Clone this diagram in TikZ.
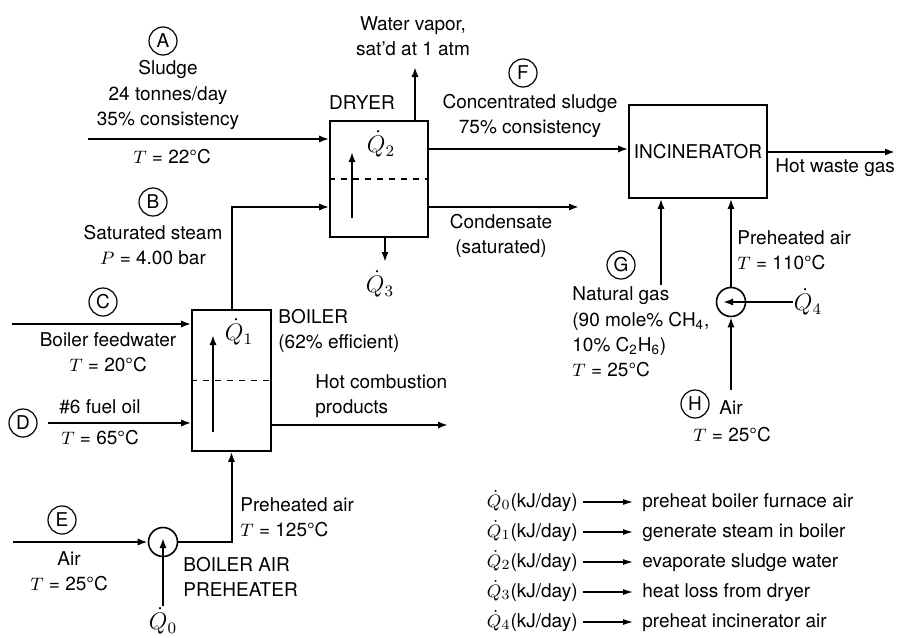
\documentclass[tikz,border=0pt]{standalone}
\usepackage{fontspec}
\setmainfont{TeX Gyre Heros}
\usepackage{tikz}
\usetikzlibrary{arrows.meta,positioning,calc}
\tikzset{
  unit/.style={draw,line width=0.8pt,inner sep=0pt},
  heater/.style={draw,circle,line width=0.8pt,minimum size=14.5pt,inner sep=0pt},
  tag/.style={draw,circle,line width=0.6pt,minimum size=14pt,inner sep=0pt},
  flow/.style={-{Latex[length=5pt,width=3.6pt]},line width=1pt},
  key/.style={-{Latex[length=5pt,width=3pt]},line width=0.6pt},
  lbl/.style={align=center,inner sep=0pt},
  lbll/.style={align=left,inner sep=0pt,anchor=west},
  qlbl/.style={inner sep=0pt,font=\fontsize{11.5pt}{13pt}\selectfont},
  keylbl/.style={inner sep=0pt,text height=7pt,text depth=2pt}
}
\begin{document}
\begin{tikzpicture}[x=0.5pt,y=-0.5pt,every node/.style={font=\fontsize{9.5pt}{12.6pt}\selectfont}]
\useasboundingbox (0,0) rectangle (897,637);
% units
\node[unit,minimum width=49pt,minimum height=58pt] (dryer) at (379,179) {};
\node[unit,minimum width=39.5pt,minimum height=70.5pt] (boiler) at (231.5,380.5) {};
\node[unit,minimum width=69pt,minimum height=46.5pt] (incin) at (698,151.5) {INCINERATOR};
\node[heater] (heat0) at (163,542) {};
\node[heater] (heat4) at (731,302) {};
\draw[dashed,line width=0.7pt] (dryer.west) -- (dryer.east);
\draw[dashed,line width=0.7pt] (boiler.west) -- (boiler.east);
\node[lbl] (dryerlbl) at (362,103) {DRYER};
\node[lbll] (boilerlbl) at (278,331) {BOILER\\(62\% efficient)};
\node[lbll] (heat0lbl) at (183,577) {BOILER AIR\\PREHEATER};
% heat inside units
\coordinate (q2a) at (352,218);
\coordinate (q2b) at (352,152);
\coordinate (q1a) at (213,432);
\coordinate (q1b) at (213,335);
\draw[flow] (q2a) -- (q2b);
\draw[flow] (q1a) -- (q1b);
\node[qlbl] (q2) at (381,144) {$\dot{Q}_2$};
\node[qlbl] (q1) at (239,332) {$\dot{Q}_1$};
% stream A
\coordinate (aIn) at (88,139);
\draw[flow] (aIn) -- (aIn -| dryer.west);
\node[tag] (tA) at (163,41) {A};
\node[lbl] (sludge) at (168,95) {Sludge\\24 tonnes/day\\35\% consistency};
\node[lbl] (tsludge) at (172,157) {$T$ = 22\textdegree C};
% water vapor
\coordinate (wv) at (415,67);
\draw[flow] (wv |- dryer.north) -- (wv);
\node[lbl] (wvlbl) at (413,36) {Water vapor,\\sat'd at 1 atm};
% Q3
\coordinate (q3b) at (385,262);
\draw[flow] (q3b |- dryer.south) -- (q3b);
\node[qlbl] (q3) at (380,284) {$\dot{Q}_3$};
% stream B
\draw[flow] (boiler.north) |- ($(dryer.west)+(0,28)$);
\node[tag] (tB) at (153,202) {B};
\node[lbl] (steam) at (153,245) {Saturated steam\\$P$ = 4.00 bar};
% stream C
\coordinate (cIn) at (12,324);
\draw[flow] (cIn) -- (cIn -| boiler.west);
\node[tag] (tC) at (103,302) {C};
\node[lbl] (feed) at (108,352) {Boiler feedwater\\$T$ = 20\textdegree C};
% stream D
\coordinate (dIn) at (48,423);
\draw[flow] (dIn) -- (dIn -| boiler.west);
\node[tag] (tD) at (23,423) {D};
\node[lbl] (oil) at (100,407) {\#6 fuel oil};
\node[lbl] (toil) at (100,438) {$T$ = 65\textdegree C};
% combustion products
\coordinate (hcp) at (448,425);
\draw[flow] (hcp -| boiler.east) -- (hcp);
\node[lbll] (hcplbl) at (315,396) {Hot combustion\\products};
% stream E
\coordinate (eIn) at (13,542);
\draw[flow] (eIn) -- (heat0.west);
\draw[flow] (heat0.east) -| (boiler.south);
\node[tag] (tE) at (62,520) {E};
\node[lbl] (air0) at (69,571) {Air\\$T$ = 25\textdegree C};
\node[lbll] (pre0) at (240,517) {Preheated air\\$T$ = 125\textdegree C};
\coordinate (q0a) at (163,606);
\draw[flow] (q0a) -- ($(heat0.center)+(0,-4)$);
\node[qlbl] (q0) at (163,621) {$\dot{Q}_0$};
% stream F
\draw[flow] ($(dryer.east)+(0,-30)$) -- ($(incin.west)+(0,-2.5)$);
\node[tag] (tF) at (523,73) {F};
\node[lbl] (conc) at (530,116) {Concentrated sludge\\75\% consistency};
% condensate
\coordinate (cond) at (579,207);
\draw[flow] (cond -| dryer.east) -- (cond);
\node[lbl] (condlbl) at (501,236) {Condensate\\(saturated)};
% hot waste gas
\coordinate (hwg) at (895,152);
\draw[flow] (hwg -| incin.east) -- (hwg);
\node[lbll] (hwglbl) at (775,168) {Hot waste gas};
% stream G
\coordinate (gIn) at (661,285);
\draw[flow] (gIn) -- (gIn |- incin.south);
\node[tag] (tG) at (621,265) {G};
\node[lbll] (gas) at (572,332) {Natural gas\\(90 mole\% CH\textsubscript{4},\\10\% C\textsubscript{2}H\textsubscript{6})\\$T$ = 25\textdegree C};
% stream H
\coordinate (hIn) at (731,390);
\draw[flow] (hIn) -- (heat4.south);
\draw[flow] (heat4.north) -- (heat4.north |- incin.south);
\node[tag] (tH) at (695,404) {H};
\node[lbll] (air4) at (719,408) {Air};
\node[lbl] (tair4) at (732,435) {$T$ = 25\textdegree C};
\node[lbll] (pre4) at (737,250) {Preheated air\\$T$ = 110\textdegree C};
\coordinate (q4a) at (793,302);
\draw[flow] (q4a) -- ($(heat4.center)+(-8,0)$);
\node[qlbl] (q4) at (808,302) {$\dot{Q}_4$};
% key
\foreach \i/\txt [count=\n from 0] in {0/preheat boiler furnace air,1/generate steam in boiler,2/evaporate sludge water,3/heat loss from dryer,4/preheat incinerator air}{
  \node[keylbl,anchor=east] (l\i) at (578,502+30*\n) {$\dot{Q}_\i$(kJ/day)};
  \node[keylbl,anchor=west] (r\i) at (642,502+30*\n) {\txt};
  \draw[key] ([xshift=2.5pt]l\i.east) -- ([xshift=-4.5pt]r\i.west);
}
\end{tikzpicture}
\end{document}
